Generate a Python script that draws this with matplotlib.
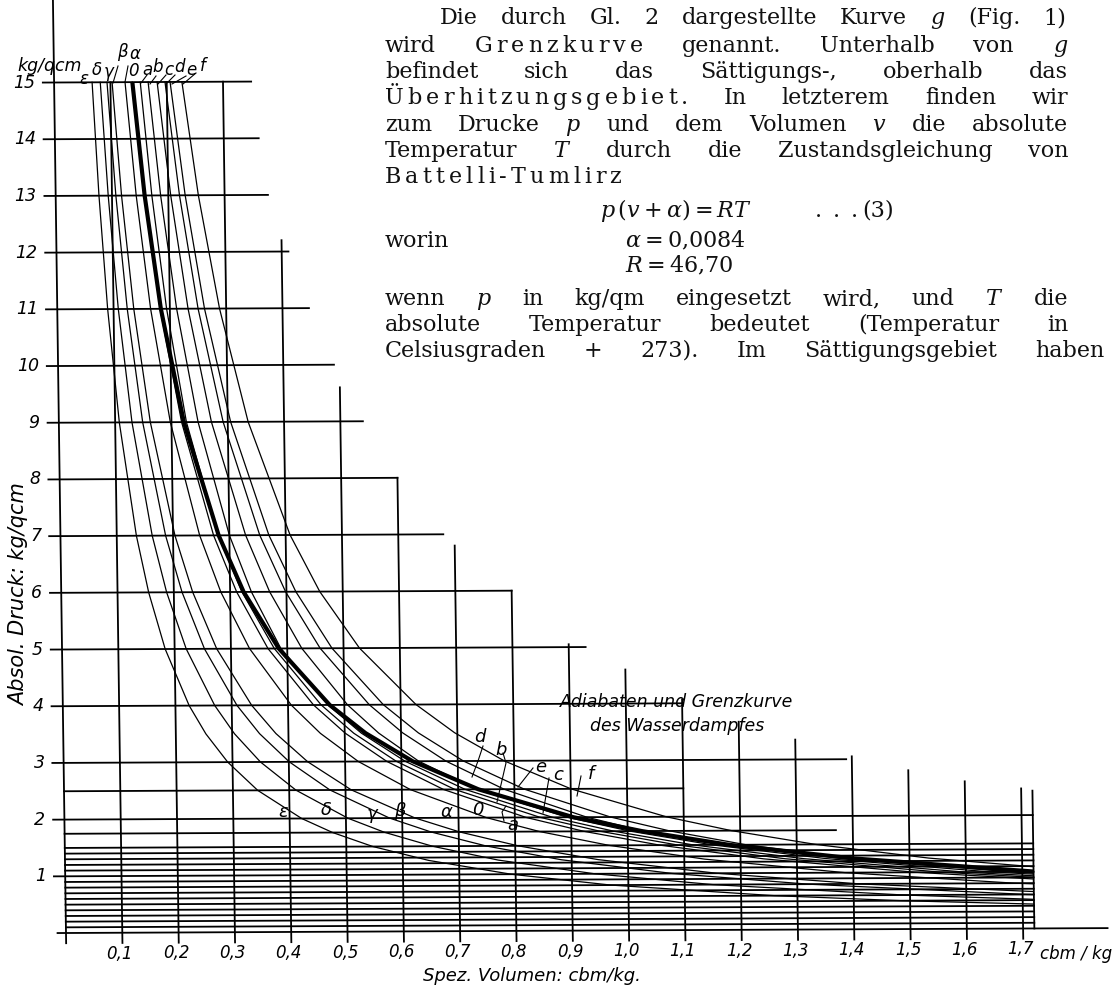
import numpy as np
import matplotlib
matplotlib.use("Agg")
import matplotlib.pyplot as plt
from matplotlib.patches import Rectangle
from matplotlib.transforms import Affine2D, IdentityTransform

plt.rcParams['mathtext.fontset'] = 'dejavuserif'

p_levels = [15, 13, 11, 9, 7, 6, 5, 4, 3.5, 3, 2.5, 2, 1.75, 1.5, 1.25, 1.0, 0.8, 0.6, 0.5, 0.4]

# Grenzkurve, spez. Volumen (cbm/kg)
grenzkurve = [0.139, 0.158, 0.184, 0.222, 0.281, 0.324, 0.385, 0.474, 0.537, 0.620,
              0.736, 0.904, 1.025, 1.18, 1.40, 1.725]

# Adiabaten
ad_eps = [0.0675, 0.0769, 0.0895, 0.1074, 0.1349, 0.1553, 0.1832, 0.2244, 0.2534, 0.2915,
          0.344, 0.4214, 0.476, 0.547, 0.646, 0.792, 0.969, 1.259, 1.486, 1.820]
ad_delta = [0.082, 0.0933, 0.1084, 0.1299, 0.163, 0.1872, 0.2206, 0.2698, 0.3042, 0.3496,
            0.412, 0.5038, 0.568, 0.653, 0.7695, 0.941, 1.150, 1.490, 1.757]
ad_gamma = [0.094, 0.1069, 0.1243, 0.1489, 0.1868, 0.2146, 0.253, 0.3093, 0.3487, 0.4008,
            0.4724, 0.5775, 0.6513, 0.7484, 0.882, 1.078, 1.319, 1.708, 2.01]
ad_beta = [0.103, 0.117, 0.1359, 0.1625, 0.2034, 0.2335, 0.2747, 0.3354, 0.3778, 0.4335,
           0.5103, 0.6226, 0.7015, 0.805, 0.947, 1.157, 1.411, 1.825]
ad_alpha = [0.126, 0.143, 0.1658, 0.198, 0.2473, 0.2835, 0.3331, 0.4058, 0.4568, 0.5235,
            0.6153, 0.7496, 0.8436, 0.967, 1.136, 1.385, 1.686, 2.18]
ad_0 = [0.139, 0.1577, 0.1827, 0.218, 0.272, 0.3116, 0.3658, 0.4454, 0.501, 0.574,
        0.674, 0.820, 0.9225, 1.057, 1.241, 1.511, 1.839]
ad_a = [0.153, 0.1708, 0.1942, 0.2266, 0.2803, 0.321, 0.377, 0.459, 0.516, 0.591,
        0.694, 0.845, 0.951, 1.089, 1.279, 1.556, 1.89]
ad_b = [0.167, 0.1864, 0.212, 0.2473, 0.3001, 0.3378, 0.3887, 0.471, 0.5296, 0.6067,
        0.7124, 0.867, 0.9755, 1.117, 1.312, 1.597, 1.94]
ad_c = [0.183, 0.2043, 0.2323, 0.271, 0.3289, 0.3702, 0.4259, 0.5057, 0.5603, 0.6308,
        0.7335, 0.893, 1.004, 1.1505, 1.351, 1.644, 2.0]
ad_d = [0.197, 0.2199, 0.2501, 0.2918, 0.354, 0.3985, 0.4585, 0.5444, 0.6032, 0.679,
        0.7815, 0.9277, 1.028, 1.175, 1.380, 1.680, 2.04]
ad_e = [0.206, 0.23, 0.2615, 0.3051, 0.3702, 0.4167, 0.4795, 0.5693, 0.6308, 0.7101,
        0.8172, 0.970, 1.075, 1.210, 1.395, 1.699, 2.07]
ad_f = [0.227, 0.2534, 0.2882, 0.3362, 0.4079, 0.4592, 0.5283, 0.6273, 0.6951, 0.7825,
        0.9005, 1.069, 1.1845, 1.3336, 1.534, 1.8215]

adiabat_names = ["ε", "δ", "γ", "β", "α", "0", "a", "b", "c", "d", "e", "f"]
adiabats = [ad_eps, ad_delta, ad_gamma, ad_beta, ad_alpha, ad_0,
            ad_a, ad_b, ad_c, ad_d, ad_e, ad_f]

# staircase grid: horizontal lines (p) with their right end (v),
# vertical lines (v) with their upper end (p)
h_lines = [15, 14, 13, 12, 11, 10, 9, 8, 7, 6, 5, 4, 3, 2.5, 2, 1.75,
           1.5, 1.4, 1.3, 1.2, 1.1, 1.0, 0.9, 0.8, 0.7, 0.6, 0.5, 0.4, 0.3, 0.2, 0.1]
h_ends = [0.35, 0.362, 0.377, 0.412, 0.447, 0.49, 0.54, 0.60, 0.68, 0.80, 0.93, 1.10,
          1.39, 1.10, 1.72, 1.37] + [1.72] * 15
v_lines = [0.1, 0.2, 0.3, 0.4, 0.5, 0.6, 0.7, 0.8, 0.9, 1.0, 1.1, 1.2, 1.3, 1.4, 1.5, 1.6, 1.7]
v_tops = [15, 15, 15, 12.2, 9.6, 8.0, 6.8, 6.0, 5.05, 4.6, 4.07, 3.67, 3.35, 3.05, 2.8, 2.6, 2.47]
y_ticks = list(range(1, 16))
x_tick_labels = ["0,1", "0,2", "0,3", "0,4", "0,5", "0,6", "0,7", "0,8", "0,9",
                 "1,0", "1,1", "1,2", "1,3", "1,4", "1,5", "1,6", "1,7"]

W, H = 1114, 989
fig = plt.figure(figsize=(W / 100, H / 100), dpi=100)
ax = fig.add_axes([0, 0, 1, 1])
X0, SX, Y0, SY = 66, 563, 933, 56.7
ax.set_xlim(-X0 / SX, (W - X0) / SX)
ax.set_ylim((Y0 - H) / SY, Y0 / SY)
ax.axis('off')

# the scan is slightly sheared
shear = Affine2D(np.array([[1, -0.014, 0.014 * (H - Y0)],
                           [0.0047, 1, -0.0047 * X0],
                           [0, 0, 1]]))
tr = ax.transData + shear
pix = IdentityTransform()

lw_grid = 1.3
# axes
ax.plot([0, 0], [-0.18, 16.6], color='k', lw=lw_grid, transform=tr)
ax.plot([-0.015, 1.85], [0, 0], color='k', lw=lw_grid, transform=tr)
ax.plot([1.72, 1.72], [0, 2.43], color='k', lw=lw_grid, transform=tr)
for p, e in zip(h_lines, h_ends):
    start = -0.02 if float(p).is_integer() else 0
    ax.plot([start, e], [p, p], color='k', lw=lw_grid, transform=tr)
for v, t in zip(v_lines, v_tops):
    ax.plot([v, v], [-0.18, t], color='k', lw=lw_grid, transform=tr)

clip = Rectangle((0, 0), 1.72, 15, transform=tr, visible=False)
ax.add_patch(clip)
for vals in adiabats:
    ln, = ax.plot(vals, p_levels[:len(vals)], color='k', lw=0.9, transform=tr)
    ln.set_clip_path(clip)
ln, = ax.plot(grenzkurve, p_levels[:len(grenzkurve)], color='k', lw=3.0,
              transform=tr, solid_capstyle='butt')
ln.set_clip_path(clip)

hand = dict(family='DejaVu Sans', style='oblique', color='k')
for p in y_ticks:
    ax.text(-0.034, p, str(p), ha='right', va='center', size=12.5, transform=tr, **hand)
for v, s in zip(v_lines, x_tick_labels):
    ax.text(v - 0.005, -0.37, s, ha='center', va='center', size=12, transform=tr, **hand)
ax.text(1040, H - 954, "cbm / kg", ha='left', va='center', size=12, transform=pix, **hand)
ax.text(50, H - 66, "kg/qcm", ha='center', va='center', size=12.5, transform=pix, **hand)
ax.text(19, H - 595, "Absol. Druck: kg/qcm", rotation=90, ha='center', va='center',
        size=15, transform=pix, **hand)
ax.text(532, H - 976, "Spez. Volumen: cbm/kg.", ha='center', va='center', size=13,
        transform=pix, **hand)
ax.text(677, H - 702, "Adiabaten und Grenzkurve", ha='center', va='center', size=12.5,
        transform=pix, **hand)
ax.text(677, H - 726, "des Wasserdampfes", ha='center', va='center', size=12.5,
        transform=pix, **hand)

# curve labels at the top, with leaders
top_xy = [(84, 79), (97, 70), (109, 72), (122, 52), (135, 54), (133, 71),
          (147, 70), (158, 67), (169, 70), (179, 67), (191, 70), (203, 66)]
top_leaders = [None, None, None, [(118, 66), (113, 83)], [(128, 66), (125, 82)], None,
               [(147, 75), (141, 83)], [(156, 76), (150, 84)], [(166, 75), (158, 84)],
               [(175, 75), (166, 84)], [(186, 76), (172, 84)], [(196, 73), (183, 84)]]
for name, (x, y), ld in zip(adiabat_names, top_xy, top_leaders):
    ax.text(x, H - y, name, ha='center', va='center', size=12, transform=pix, **hand)
    if ld:
        ax.plot([q[0] for q in ld], [H - q[1] for q in ld], color='k', lw=0.8, transform=pix)

# curve labels inside the chart
mid_xy = [(283, 812), (326, 810), (372, 814), (400, 811), (446, 812), (478, 810),
          (513, 825), (501, 750), (558, 775), (480, 737), (541, 767), (591, 774)]
mid_leaders = [None, None, None, None, None, None,
               [(506, 806), (502, 812), (504, 821)],
               [(503, 753), (506, 763), (497, 802)],
               [(549, 778), (543, 813)],
               [(483, 746), (478, 761), (472, 777)],
               [(533, 768), (518, 787)],
               [(581, 776), (577, 796)]]
for name, (x, y), ld in zip(adiabat_names, mid_xy, mid_leaders):
    ax.text(x, H - y, name, ha='center', va='center', size=13, transform=pix, **hand)
    if ld:
        ax.plot([q[0] for q in ld], [H - q[1] for q in ld], color='k', lw=0.8, transform=pix)

# text of the book page, justified
renderer = fig.canvas.get_renderer()
body = dict(family='DejaVu Serif', size=16, color='#111111')
SP = 4.0

def width(s):
    t = fig.text(0, 0, s, **body)
    w = t.get_window_extent(renderer).width
    t.remove()
    return w

def put_line(words, x0, y, x1=None, gap=7.0):
    blocks = []
    for w in words:
        if isinstance(w, tuple):
            letters = list(w[0])
            ws = [width(c) for c in letters]
            blocks.append((letters, ws, sum(ws) + SP * (len(ws) - 1), SP))
        else:
            ww = width(w)
            blocks.append(([w], [ww], ww, 0))
    total = sum(b[2] for b in blocks)
    n = len(blocks) - 1
    g = (x1 - x0 - total) / n if (x1 is not None and n > 0) else gap
    x = x0
    for parts, ws, tw, sp in blocks:
        xx = x
        for s, w_ in zip(parts, ws):
            ax.text(xx, H - y, s, ha='left', va='baseline', transform=pix, **body)
            xx += w_ + sp
        x += tw + g

para = [
    (["Die", "durch", "Gl.", "2", "dargestellte", "Kurve", "$g$", "(Fig.", "1)"], 440, 24, 1066),
    (["wird", ("Grenzkurve",), "genannt.", "Unterhalb", "von", "$g$"], 385, 52, 1068),
    (["befindet", "sich", "das", "Sättigungs-,", "oberhalb", "das"], 385, 78, 1068),
    ([("Überhitzungsgebiet.",), "In", "letzterem", "finden", "wir"], 385, 104.5, 1068),
    (["zum", "Drucke", "$p$", "und", "dem", "Volumen", "$v$", "die", "absolute"], 385, 131, 1068),
    (["Temperatur", "$T$", "durch", "die", "Zustandsgleichung", "von"], 385, 157, 1068),
    ([("Battelli-Tumlirz",)], 385, 183, None),
    (["wenn", "$p$", "in", "kg/qm", "eingesetzt", "wird,", "und", "$T$", "die"], 385, 305, 1068),
    (["absolute", "Temperatur", "bedeutet", "(Temperatur", "in"], 385, 331, 1068),
    (["Celsiusgraden", "+", "273).", "Im", "Sättigungsgebiet", "haben"], 385, 357, 1104),
]
for words, x0, y, x1 in para:
    put_line(words, x0, y, x1)

ax.text(600, H - 217, r"$p\,(v+\alpha) = RT$", ha='left', va='baseline', size=16,
        transform=pix, color='#111111')
for x in (818, 836, 854):
    ax.text(x, H - 217, ".", ha='center', va='baseline', transform=pix, **body)
ax.text(862, H - 217, "(3)", ha='left', va='baseline', transform=pix, **body)
ax.text(385, H - 247, "worin", ha='left', va='baseline', transform=pix, **body)
ax.text(625, H - 247, r"$\alpha = 0{,}0084$", ha='left', va='baseline', size=16,
        transform=pix, color='#111111')
ax.text(625, H - 272, r"$R = 46{,}70$", ha='left', va='baseline', size=16,
        transform=pix, color='#111111')

fig.savefig("out.png", dpi=100)
